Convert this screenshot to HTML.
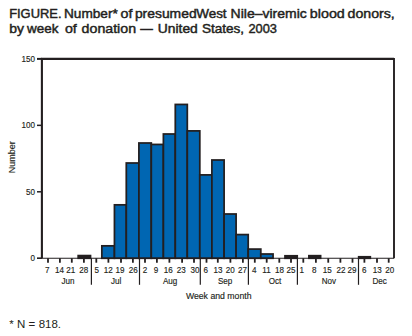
<!DOCTYPE html>
<html><head><meta charset="utf-8"><style>
html,body{margin:0;padding:0;background:#fff;}
body{width:412px;height:336px;overflow:hidden;position:relative;}
svg{position:absolute;left:0;top:0;}
.ttl{font-family:"Liberation Sans",sans-serif;font-weight:bold;font-size:13px;fill:#231f20;}
.ttlr{font-family:"Liberation Sans",sans-serif;font-size:13px;fill:#231f20;stroke:#231f20;stroke-width:0.45px;}
.ax{font-family:"Liberation Sans",sans-serif;font-size:8.5px;fill:#231f20;stroke:#231f20;stroke-width:0.15px;}
.lb{font-family:"Liberation Sans",sans-serif;font-size:9px;fill:#231f20;stroke:#231f20;stroke-width:0.15px;}
.fn{font-family:"Liberation Sans",sans-serif;font-size:11.5px;fill:#231f20;}
</style></head><body>
<svg width="412" height="336" viewBox="0 0 412 336">
<text x="9.17" y="17.6" class="ttlr" textLength="52.33" lengthAdjust="spacingAndGlyphs">FIGURE.</text>
<text x="63.97" y="17.6" class="ttlr" textLength="53.79" lengthAdjust="spacingAndGlyphs">Number*</text>
<text x="120.50" y="17.6" class="ttlr" textLength="11.88" lengthAdjust="spacingAndGlyphs">of</text>
<text x="134.90" y="17.6" class="ttlr" textLength="61.74" lengthAdjust="spacingAndGlyphs">presumed</text>
<text x="196.20" y="17.6" class="ttlr" textLength="30.43" lengthAdjust="spacingAndGlyphs">West</text>
<text x="230.60" y="17.6" class="ttlr" textLength="76.21" lengthAdjust="spacingAndGlyphs">Nile–viremic</text>
<text x="309.82" y="17.6" class="ttlr" textLength="34.99" lengthAdjust="spacingAndGlyphs">blood</text>
<text x="347.50" y="17.6" class="ttlr" textLength="47.27" lengthAdjust="spacingAndGlyphs">donors,</text>
<text x="9.17" y="32.5" class="ttlr" textLength="14.77" lengthAdjust="spacingAndGlyphs">by</text>
<text x="26.97" y="32.5" class="ttlr" textLength="31.41" lengthAdjust="spacingAndGlyphs">week</text>
<text x="64.90" y="32.5" class="ttlr" textLength="11.88" lengthAdjust="spacingAndGlyphs">of</text>
<text x="81.60" y="32.5" class="ttlr" textLength="54.49" lengthAdjust="spacingAndGlyphs">donation</text>
<text x="140.20" y="32.5" class="ttlr" textLength="12.60" lengthAdjust="spacingAndGlyphs">—</text>
<text x="157.75" y="32.5" class="ttlr" textLength="40.05" lengthAdjust="spacingAndGlyphs">United</text>
<text x="201.92" y="32.5" class="ttlr" textLength="42.24" lengthAdjust="spacingAndGlyphs">States,</text>
<text x="248.40" y="32.5" class="ttlr" textLength="28.52" lengthAdjust="spacingAndGlyphs">2003</text>
<rect x="78.20" y="255.60" width="12.30" height="2.65" fill="#231f20" stroke="#231f20" stroke-width="1.75"/>
<rect x="101.85" y="245.85" width="12.60" height="12.40" fill="#0066b2" stroke="#231f20" stroke-width="1.75"/>
<rect x="114.45" y="204.85" width="11.85" height="53.40" fill="#0066b2" stroke="#231f20" stroke-width="1.75"/>
<rect x="126.30" y="163.00" width="12.60" height="95.25" fill="#0066b2" stroke="#231f20" stroke-width="1.75"/>
<rect x="138.90" y="143.00" width="12.40" height="115.25" fill="#0066b2" stroke="#231f20" stroke-width="1.75"/>
<rect x="151.30" y="144.45" width="12.10" height="113.80" fill="#0066b2" stroke="#231f20" stroke-width="1.75"/>
<rect x="163.40" y="134.00" width="11.90" height="124.25" fill="#0066b2" stroke="#231f20" stroke-width="1.75"/>
<rect x="175.30" y="104.45" width="12.00" height="153.80" fill="#0066b2" stroke="#231f20" stroke-width="1.75"/>
<rect x="187.30" y="130.90" width="12.50" height="127.35" fill="#0066b2" stroke="#231f20" stroke-width="1.75"/>
<rect x="199.80" y="174.90" width="12.10" height="83.35" fill="#0066b2" stroke="#231f20" stroke-width="1.75"/>
<rect x="211.90" y="160.00" width="12.20" height="98.25" fill="#0066b2" stroke="#231f20" stroke-width="1.75"/>
<rect x="224.10" y="214.00" width="12.00" height="44.25" fill="#0066b2" stroke="#231f20" stroke-width="1.75"/>
<rect x="236.10" y="234.60" width="12.10" height="23.65" fill="#0066b2" stroke="#231f20" stroke-width="1.75"/>
<rect x="248.20" y="249.10" width="12.60" height="9.15" fill="#0066b2" stroke="#231f20" stroke-width="1.75"/>
<rect x="260.80" y="254.00" width="12.25" height="4.25" fill="#0066b2" stroke="#231f20" stroke-width="1.75"/>
<rect x="285.00" y="255.80" width="12.20" height="2.45" fill="#231f20" stroke="#231f20" stroke-width="1.75"/>
<rect x="308.90" y="255.70" width="11.70" height="2.55" fill="#231f20" stroke="#231f20" stroke-width="1.75"/>
<rect x="358.70" y="256.80" width="11.60" height="1.45" fill="#231f20" stroke="#231f20" stroke-width="1.75"/>
<path d="M41.9,258.25 V58.9 H394.0" fill="none" stroke="#231f20" stroke-width="2.1"/>
<path d="M394.0,57.9 V258.25" fill="none" stroke="#231f20" stroke-width="1.9"/>
<line x1="37" y1="258.25" x2="394.0" y2="258.25" stroke="#231f20" stroke-width="1.2"/>
<line x1="37" y1="258.25" x2="41.9" y2="258.25" stroke="#231f20" stroke-width="1.5"/>
<text transform="translate(35.0,261.20) scale(0.95,1)" text-anchor="end" class="ax">0</text>
<line x1="37" y1="191.80" x2="41.9" y2="191.80" stroke="#231f20" stroke-width="1.5"/>
<text transform="translate(35.0,194.75) scale(0.95,1)" text-anchor="end" class="ax">50</text>
<line x1="37" y1="125.35" x2="41.9" y2="125.35" stroke="#231f20" stroke-width="1.5"/>
<text transform="translate(35.0,128.30) scale(0.95,1)" text-anchor="end" class="ax">100</text>
<line x1="37" y1="58.90" x2="41.9" y2="58.90" stroke="#231f20" stroke-width="2.0"/>
<text transform="translate(35.0,61.85) scale(0.95,1)" text-anchor="end" class="ax">150</text>
<line x1="48.00" y1="258.25" x2="48.00" y2="262.7" stroke="#231f20" stroke-width="1.8"/>
<text transform="translate(47.35,272.9) scale(0.95,1)" text-anchor="middle" class="ax">7</text>
<line x1="59.90" y1="258.25" x2="59.90" y2="262.7" stroke="#231f20" stroke-width="1.8"/>
<text transform="translate(59.55,272.9) scale(0.95,1)" text-anchor="middle" class="ax">14</text>
<line x1="71.80" y1="258.25" x2="71.80" y2="262.7" stroke="#231f20" stroke-width="1.8"/>
<text transform="translate(70.75,272.9) scale(0.95,1)" text-anchor="middle" class="ax">21</text>
<line x1="83.90" y1="258.25" x2="83.90" y2="262.7" stroke="#231f20" stroke-width="1.8"/>
<text transform="translate(83.80,272.9) scale(0.95,1)" text-anchor="middle" class="ax">28</text>
<line x1="96.30" y1="258.25" x2="96.30" y2="262.7" stroke="#231f20" stroke-width="1.8"/>
<text transform="translate(96.70,272.9) scale(0.95,1)" text-anchor="middle" class="ax">5</text>
<line x1="108.40" y1="258.25" x2="108.40" y2="262.7" stroke="#231f20" stroke-width="1.8"/>
<text transform="translate(108.35,272.9) scale(0.95,1)" text-anchor="middle" class="ax">12</text>
<line x1="121.00" y1="258.25" x2="121.00" y2="262.7" stroke="#231f20" stroke-width="1.8"/>
<text transform="translate(119.90,272.9) scale(0.95,1)" text-anchor="middle" class="ax">19</text>
<line x1="132.90" y1="258.25" x2="132.90" y2="262.7" stroke="#231f20" stroke-width="1.8"/>
<text transform="translate(133.15,272.9) scale(0.95,1)" text-anchor="middle" class="ax">26</text>
<line x1="145.00" y1="258.25" x2="145.00" y2="262.7" stroke="#231f20" stroke-width="1.8"/>
<text transform="translate(145.10,272.9) scale(0.95,1)" text-anchor="middle" class="ax">2</text>
<line x1="156.90" y1="258.25" x2="156.90" y2="262.7" stroke="#231f20" stroke-width="1.8"/>
<text transform="translate(156.05,272.9) scale(0.95,1)" text-anchor="middle" class="ax">9</text>
<line x1="169.40" y1="258.25" x2="169.40" y2="262.7" stroke="#231f20" stroke-width="1.8"/>
<text transform="translate(168.20,272.9) scale(0.95,1)" text-anchor="middle" class="ax">16</text>
<line x1="182.10" y1="258.25" x2="182.10" y2="262.7" stroke="#231f20" stroke-width="1.8"/>
<text transform="translate(181.15,272.9) scale(0.95,1)" text-anchor="middle" class="ax">23</text>
<line x1="194.00" y1="258.25" x2="194.00" y2="262.7" stroke="#231f20" stroke-width="1.8"/>
<text transform="translate(194.90,272.9) scale(0.95,1)" text-anchor="middle" class="ax">30</text>
<line x1="206.50" y1="258.25" x2="206.50" y2="262.7" stroke="#231f20" stroke-width="1.8"/>
<text transform="translate(205.80,272.9) scale(0.95,1)" text-anchor="middle" class="ax">6</text>
<line x1="217.80" y1="258.25" x2="217.80" y2="262.7" stroke="#231f20" stroke-width="1.8"/>
<text transform="translate(218.00,272.9) scale(0.95,1)" text-anchor="middle" class="ax">13</text>
<line x1="230.40" y1="258.25" x2="230.40" y2="262.7" stroke="#231f20" stroke-width="1.8"/>
<text transform="translate(230.20,272.9) scale(0.95,1)" text-anchor="middle" class="ax">20</text>
<line x1="242.90" y1="258.25" x2="242.90" y2="262.7" stroke="#231f20" stroke-width="1.8"/>
<text transform="translate(242.50,272.9) scale(0.95,1)" text-anchor="middle" class="ax">27</text>
<line x1="254.80" y1="258.25" x2="254.80" y2="262.7" stroke="#231f20" stroke-width="1.8"/>
<text transform="translate(254.25,272.9) scale(0.95,1)" text-anchor="middle" class="ax">4</text>
<line x1="266.70" y1="258.25" x2="266.70" y2="262.7" stroke="#231f20" stroke-width="1.8"/>
<text transform="translate(266.50,272.9) scale(0.95,1)" text-anchor="middle" class="ax">11</text>
<line x1="279.30" y1="258.25" x2="279.30" y2="262.7" stroke="#231f20" stroke-width="1.8"/>
<text transform="translate(279.50,272.9) scale(0.95,1)" text-anchor="middle" class="ax">18</text>
<line x1="291.00" y1="258.25" x2="291.00" y2="262.7" stroke="#231f20" stroke-width="1.8"/>
<text transform="translate(291.00,272.9) scale(0.95,1)" text-anchor="middle" class="ax">25</text>
<line x1="303.30" y1="258.25" x2="303.30" y2="262.7" stroke="#231f20" stroke-width="1.8"/>
<text transform="translate(301.65,272.9) scale(0.95,1)" text-anchor="middle" class="ax">1</text>
<line x1="315.90" y1="258.25" x2="315.90" y2="262.7" stroke="#231f20" stroke-width="1.8"/>
<text transform="translate(314.20,272.9) scale(0.95,1)" text-anchor="middle" class="ax">8</text>
<line x1="328.25" y1="258.25" x2="328.25" y2="262.7" stroke="#231f20" stroke-width="1.8"/>
<text transform="translate(327.35,272.9) scale(0.95,1)" text-anchor="middle" class="ax">15</text>
<line x1="340.40" y1="258.25" x2="340.40" y2="262.7" stroke="#231f20" stroke-width="1.8"/>
<text transform="translate(341.10,272.9) scale(0.95,1)" text-anchor="middle" class="ax">22</text>
<line x1="352.50" y1="258.25" x2="352.50" y2="262.7" stroke="#231f20" stroke-width="1.8"/>
<text transform="translate(352.05,272.9) scale(0.95,1)" text-anchor="middle" class="ax">29</text>
<line x1="364.40" y1="258.25" x2="364.40" y2="262.7" stroke="#231f20" stroke-width="1.8"/>
<text transform="translate(364.15,272.9) scale(0.95,1)" text-anchor="middle" class="ax">6</text>
<line x1="377.00" y1="258.25" x2="377.00" y2="262.7" stroke="#231f20" stroke-width="1.8"/>
<text transform="translate(377.15,272.9) scale(0.95,1)" text-anchor="middle" class="ax">13</text>
<line x1="388.70" y1="258.25" x2="388.70" y2="262.7" stroke="#231f20" stroke-width="1.8"/>
<text transform="translate(389.65,272.9) scale(0.95,1)" text-anchor="middle" class="ax">20</text>
<text transform="translate(68.05,283.9) scale(0.95,1)" text-anchor="middle" class="ax">Jun</text>
<line x1="91.40" y1="258.25" x2="91.40" y2="284.8" stroke="#231f20" stroke-width="1.2"/>
<text transform="translate(116.25,283.9) scale(0.95,1)" text-anchor="middle" class="ax">Jul</text>
<line x1="139.50" y1="258.25" x2="139.50" y2="284.8" stroke="#231f20" stroke-width="1.2"/>
<text transform="translate(170.15,283.9) scale(0.95,1)" text-anchor="middle" class="ax">Aug</text>
<line x1="200.30" y1="258.25" x2="200.30" y2="284.8" stroke="#231f20" stroke-width="1.2"/>
<text transform="translate(225.15,283.9) scale(0.95,1)" text-anchor="middle" class="ax">Sep</text>
<line x1="248.40" y1="258.25" x2="248.40" y2="284.8" stroke="#231f20" stroke-width="1.2"/>
<text transform="translate(274.95,283.9) scale(0.95,1)" text-anchor="middle" class="ax">Oct</text>
<line x1="297.40" y1="258.25" x2="297.40" y2="284.8" stroke="#231f20" stroke-width="1.2"/>
<text transform="translate(328.90,283.9) scale(0.95,1)" text-anchor="middle" class="ax">Nov</text>
<line x1="358.50" y1="258.25" x2="358.50" y2="284.8" stroke="#231f20" stroke-width="1.2"/>
<text transform="translate(379.65,283.9) scale(0.95,1)" text-anchor="middle" class="ax">Dec</text>
<text transform="translate(14.9,173.2) rotate(-90)" class="lb">Number</text>
<text x="185.9" y="299.4" class="lb" textLength="65.6" lengthAdjust="spacingAndGlyphs">Week and month</text>
<text y="328.3" class="fn"><tspan x="9.14">*</tspan><tspan x="16.88">N</tspan><tspan x="28.48">=</tspan><tspan x="38.68">818.</tspan></text>
</svg>
</body></html>
